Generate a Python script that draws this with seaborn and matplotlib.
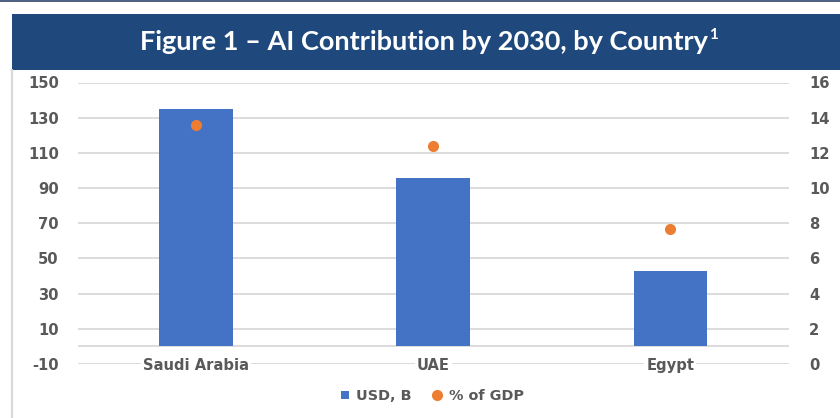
import matplotlib
matplotlib.use("Agg")
import matplotlib.pyplot as plt
from matplotlib.lines import Line2D
from matplotlib.patches import Rectangle
from matplotlib.transforms import offset_copy
import pandas as pd
import seaborn as sns

# ---- data -------------------------------------------------------------
countries = ["Saudi Arabia", "UAE", "Egypt"]
usd_billion = [135, 96, 43]          # left axis, bars
pct_of_gdp = [13.6, 12.4, 7.7]       # right axis, dots

left_ticks = [-10, 10, 30, 50, 70, 90, 110, 130, 150]
right_ticks = [0, 2, 4, 6, 8, 10, 12, 14, 16]
legend_labels = ["USD, B", "% of GDP"]
title = "Figure 1 – AI Contribution by 2030, by Country"
title_note = "1"

# ---- styling ----------------------------------------------------------
BAR_BLUE = "#4472C4"
DOT_ORANGE = "#ED7D31"
BANNER = "#1F497D"
TOP_RULE = "#4F6283"
GRID = "#D9D9D9"
LABEL = "#595959"
TICK_FONT = dict(size=10.6, weight="bold")

sns.set_theme(style="white")
plt.rcParams["font.family"] = ["DejaVu Sans"]
plt.rcParams["axes.unicode_minus"] = False

W, H = 840, 418
fig = plt.figure(figsize=(W / 100, H / 100), dpi=100)


def px_box(left, top, right, bottom):
    """Figure-fraction rectangle from pixel edges measured from the top-left."""
    return [left / W, 1 - bottom / H, (right - left) / W, (bottom - top) / H]


# header band, thin rule along the top edge and the left frame line
fig.patches.append(Rectangle((0, 1 - 2 / H), 1, 2 / H, transform=fig.transFigure,
                             facecolor=TOP_RULE, edgecolor="none"))
fig.patches.append(Rectangle((12 / W, 1 - 69.5 / H), 1 - 12 / W, 55.5 / H,
                             transform=fig.transFigure, facecolor=BANNER,
                             edgecolor="none"))
fig.lines.append(Line2D([11.5 / W, 11.5 / W], [0, 1 - 69.5 / H],
                        transform=fig.transFigure, color=GRID, lw=1.6))

# title with a small raised footnote marker after it
title_font = dict(color="white", fontweight="bold", family=["Lato", "DejaVu Sans"])
title_text = fig.text(424 / W, 1 - 50.5 / H, title, ha="center", va="baseline",
                      fontsize=19.5, **title_font)
renderer = fig.canvas.get_renderer()
bb = title_text.get_window_extent(renderer)
note_tf = offset_copy(fig.transFigure, fig=fig, x=1.0, y=8.5, units="points")
fig.text(bb.x1 / W, 1 - 50.5 / H, title_note, ha="left", va="baseline",
         fontsize=11, transform=note_tf, **title_font)

df = pd.DataFrame({"country": countries, "usd": usd_billion, "pct": pct_of_gdp})

# ---- bars on the left axis ------------------------------------------
ax = fig.add_axes(px_box(77.5, 82.5, 789, 364))
sns.barplot(data=df, x="country", y="usd", color=BAR_BLUE, saturation=1,
            width=0.31, linewidth=0, ax=ax, zorder=2)
ax.set_xlim(-0.5, 2.5)
ax.set_ylim(-10, 150)
ax.set_yticks(left_ticks)
ax.yaxis.grid(True, color=GRID, lw=1.3)
ax.xaxis.grid(False)
ax.set_axisbelow(True)
ax.axhline(0, color=GRID, lw=1.3, zorder=1)
# category labels sit on the bottom gridline, so draw them after it
ax.xaxis.set_zorder(3)
for s in ax.spines.values():
    s.set_visible(False)
ax.set_xlabel("")
ax.set_ylabel("")
ax.tick_params(axis="both", length=0, colors=LABEL)
ax.tick_params(axis="y", pad=13.5)
ax.tick_params(axis="x", pad=-4.5)
for t in ax.get_yticklabels():
    t.set_fontsize(TICK_FONT["size"])
    t.set_fontweight(TICK_FONT["weight"])
for t in ax.get_xticklabels():
    t.set_fontsize(TICK_FONT["size"])
    t.set_fontweight(TICK_FONT["weight"])
    t.set_bbox(dict(facecolor="white", edgecolor="none", pad=1.5))

# ---- share-of-GDP dots on the right axis ----------------------------
ax2 = ax.twinx()
sns.pointplot(data=df, x="country", y="pct", color=DOT_ORANGE, errorbar=None,
              markers="o", linestyle="none", markersize=8,
              markeredgewidth=0, ax=ax2)
ax2.set_xlim(-0.5, 2.5)
ax2.set_ylim(0, 16)
ax2.set_yticks(right_ticks)
ax2.grid(False)
for s in ax2.spines.values():
    s.set_visible(False)
ax2.set_xlabel("")
ax2.set_ylabel("")
ax2.tick_params(axis="both", length=0, colors=LABEL)
ax2.tick_params(axis="y", pad=14.5)
for t in ax2.get_yticklabels():
    t.set_fontsize(TICK_FONT["size"])
    t.set_fontweight(TICK_FONT["weight"])

# ---- legend ---------------------------------------------------------
handles = [
    Line2D([], [], marker="s", linestyle="none", markerfacecolor=BAR_BLUE,
           markeredgewidth=0, markersize=6),
    Line2D([], [], marker="o", linestyle="none", markerfacecolor=DOT_ORANGE,
           markeredgewidth=0, markersize=8),
]
leg = fig.legend(handles, legend_labels, loc="center",
                 bbox_to_anchor=(431 / W, 1 - 396 / H), ncol=2, frameon=False,
                 handlelength=0.9, handletextpad=0.35, columnspacing=1.3,
                 prop=dict(size=10.4, weight="bold"))
for t in leg.get_texts():
    t.set_color(LABEL)

fig.savefig("out.png", dpi=100, facecolor="white")
